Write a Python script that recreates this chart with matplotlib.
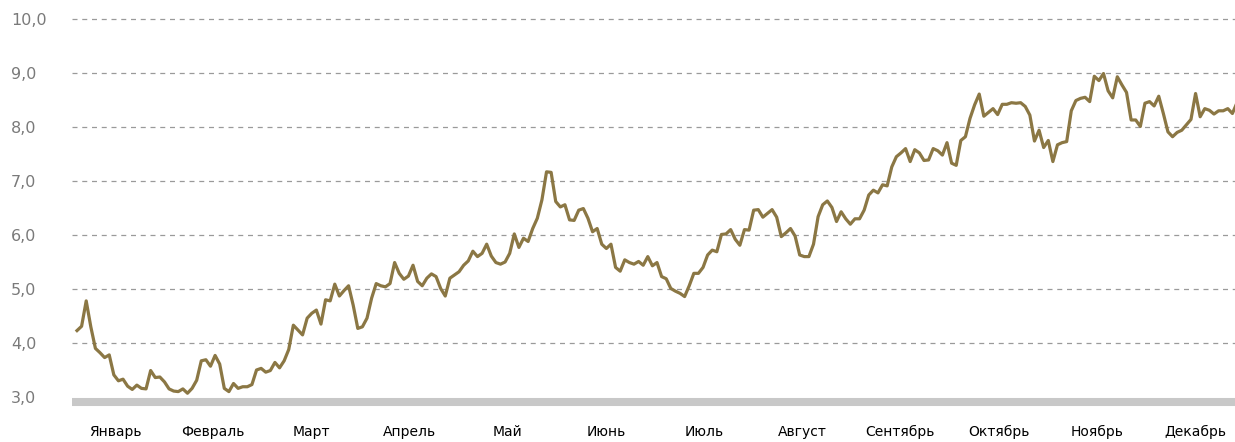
import numpy as np
import matplotlib
matplotlib.use("Agg")
import matplotlib.pyplot as plt

months = ["Январь", "Февраль", "Март", "Апрель", "Май", "Июнь", "Июль",
          "Август", "Сентябрь", "Октябрь", "Ноябрь", "Декабрь"]
yticks = [3, 4, 5, 6, 7, 8, 9, 10]
ytick_labels = ["3,0", "4,0", "5,0", "6,0", "7,0", "8,0", "9,0", "10,0"]

values = [
    4.23, 4.31, 4.78, 4.30, 3.90, 3.82, 3.73, 3.78, 3.41, 3.30, 3.33, 3.20,
    3.14, 3.22, 3.16, 3.15, 3.49, 3.36, 3.37, 3.28, 3.15, 3.11, 3.10, 3.15,
    3.07, 3.16, 3.31, 3.67, 3.69, 3.57, 3.77, 3.61, 3.16, 3.10, 3.25, 3.16,
    3.19, 3.19, 3.23, 3.50, 3.53, 3.46, 3.49, 3.64, 3.54, 3.67, 3.88, 4.33,
    4.24, 4.15, 4.46, 4.55, 4.61, 4.35, 4.80, 4.78, 5.09, 4.87, 4.97, 5.06,
    4.70, 4.27, 4.30, 4.46, 4.83, 5.10, 5.06, 5.04, 5.10, 5.49, 5.29, 5.18,
    5.24, 5.44, 5.14, 5.06, 5.20, 5.28, 5.23, 5.01, 4.87, 5.20, 5.26, 5.32,
    5.44, 5.52, 5.70, 5.60, 5.66, 5.83, 5.61, 5.49, 5.46, 5.50, 5.66, 6.02,
    5.77, 5.94, 5.88, 6.12, 6.31, 6.65, 7.17, 7.16, 6.62, 6.52, 6.56, 6.28,
    6.27, 6.46, 6.49, 6.31, 6.06, 6.12, 5.83, 5.75, 5.83, 5.40, 5.33, 5.54,
    5.49, 5.46, 5.51, 5.44, 5.60, 5.43, 5.49, 5.23, 5.19, 5.01, 4.96, 4.92,
    4.86, 5.06, 5.29, 5.29, 5.40, 5.63, 5.72, 5.69, 6.01, 6.02, 6.10, 5.92,
    5.81, 6.10, 6.09, 6.46, 6.47, 6.33, 6.40, 6.47, 6.33, 5.97, 6.04, 6.12,
    5.98, 5.63, 5.60, 5.60, 5.83, 6.34, 6.56, 6.63, 6.51, 6.25, 6.43, 6.30,
    6.20, 6.30, 6.30, 6.46, 6.74, 6.83, 6.78, 6.93, 6.91, 7.26, 7.45, 7.52,
    7.60, 7.36, 7.58, 7.52, 7.38, 7.39, 7.60, 7.56, 7.48, 7.71, 7.33, 7.29,
    7.75, 7.82, 8.16, 8.41, 8.61, 8.20, 8.27, 8.34, 8.23, 8.42, 8.42, 8.45,
    8.44, 8.45, 8.38, 8.22, 7.74, 7.94, 7.62, 7.75, 7.36, 7.67, 7.71, 7.73,
    8.30, 8.49, 8.53, 8.55, 8.47, 8.94, 8.86, 8.99, 8.67, 8.54, 8.93, 8.78,
    8.64, 8.13, 8.13, 8.01, 8.44, 8.47, 8.39, 8.57, 8.25, 7.91, 7.82, 7.90,
    7.94, 8.04, 8.14, 8.62, 8.19, 8.34, 8.31, 8.24, 8.30, 8.30, 8.34, 8.25,
    8.45,
]

LINE = "#8b7744"
TEXT = "#7a7a7a"
GRID = "#9a9a9a"
BAR = "#c8c8c8"
FONT = ["Liberation Sans Narrow", "DejaVu Sans"]

W, H = 1235, 442
fig = plt.figure(figsize=(W / 100, H / 100), dpi=100)

ax_left_px, ax_right_px = 72, 1235
ax_bottom_px = 397
ymin, ymax = 3.0, 10.1
px_per_unit = 54.0
ax_top_px = ax_bottom_px - (ymax - ymin) * px_per_unit
ax = fig.add_axes([ax_left_px / W, (H - ax_bottom_px) / H,
                   (ax_right_px - ax_left_px) / W, (ax_bottom_px - ax_top_px) / H])

n = len(values)
x = np.arange(n)
first_px, last_px = 77, 1237
step = (last_px - first_px) / (n - 1)
ax.set_xlim((ax_left_px - first_px) / step, (ax_right_px - first_px) / step)
ax.set_ylim(ymin, ymax)

for yv in yticks[1:]:
    ax.axhline(yv, color=GRID, lw=0.9, linestyle=(0, (4.0, 3.8)), zorder=1)

ax.plot(x, values, color=LINE, lw=2.3, zorder=3, solid_joinstyle="round")

# months evenly spread over the year span
yr0 = (66 - first_px) / step
yr1 = (1244 - first_px) / step
mpos = [yr0 + (k + 0.5) * (yr1 - yr0) / 12 for k in range(12)]
ax.set_xticks(mpos)
ax.set_xticklabels(months, family=FONT, fontsize=12, color=TEXT)
ax.set_yticks(yticks)
ax.set_yticklabels(ytick_labels, family=FONT, fontsize=11.5, color=TEXT, ha="left")
ax.tick_params(axis="y", length=0, pad=44)
ax.tick_params(axis="x", length=0, pad=16.5)

for s in ["top", "right", "left"]:
    ax.spines[s].set_visible(False)
ax.spines["bottom"].set_color(BAR)
ax.spines["bottom"].set_linewidth(5.8)
ax.spines["bottom"].set_position(("outward", 3.6))
ax.spines["bottom"].set_capstyle("butt")

fig.savefig("out.png", dpi=100)
